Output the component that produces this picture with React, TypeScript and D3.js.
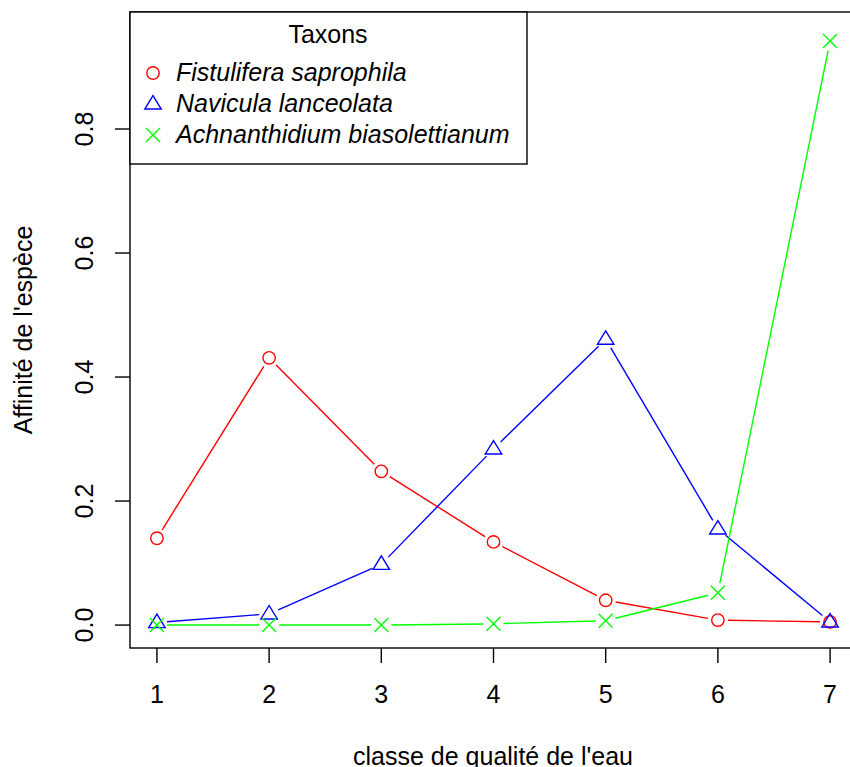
import React from "react";
import * as d3 from "d3";

const classes = [1, 2, 3, 4, 5, 6, 7];
const fistulifera = [0.140, 0.431, 0.248, 0.134, 0.040, 0.008, 0.005];
const navicula = [0.004, 0.018, 0.098, 0.284, 0.461, 0.155, 0.005];
const achnanthidium = [0.0, 0.0, 0.0, 0.002, 0.007, 0.052, 0.942];
const seriesNames = ["Fistulifera saprophila", "Navicula lanceolata", "Achnanthidium biasolettianum"];
const seriesColors = ["#FF0000", "#0000FF", "#00FF00"];
const seriesShapes = ["circle", "triangle", "cross"];
const yTicks = [0.0, 0.2, 0.4, 0.6, 0.8];
const legendTitle = "Taxons";
const xLabel = "classe de qualité de l'eau";
const yLabel = "Affinité de l'espèce";

const W = 850, H = 767;
const left = 130, right = 857, top = 12, bottom = 648;
const FONT = "Liberation Sans, Arial, sans-serif";
const FS = 25;

function Marker({ shape, x, y, color }: { shape: string; x: number; y: number; color: string }) {
  if (shape === "circle") return <circle cx={x} cy={y} r={6.2} fill="none" stroke={color} strokeWidth={1.4} />;
  if (shape === "triangle") {
    const s = 8.4;
    const pts = [[x, y - s], [x - s * 0.98, y + s * 0.6], [x + s * 0.98, y + s * 0.6]];
    return <polygon points={pts.map(p => p.join(",")).join(" ")} fill="none" stroke={color} strokeWidth={1.4} />;
  }
  const s = 7;
  return (
    <g stroke={color} strokeWidth={1.4}>
      <line x1={x - s} y1={y - s} x2={x + s} y2={y + s} />
      <line x1={x - s} y1={y + s} x2={x + s} y2={y - s} />
    </g>
  );
}

export default function App() {
  const x = d3.scaleLinear().domain([0.76, 7.24]).range([left, right]);
  const y = d3.scaleLinear().domain([-0.037, 0.9887]).range([bottom, top]);
  const data = [fistulifera, navicula, achnanthidium];
  const gap = 10;

  return (
    <svg width={W} height={H} style={{ position: "absolute", left: 0, top: 0 }} fontFamily={FONT}>
      <rect width={W} height={H} fill="white" />
      {data.map((vals, si) => (
        <g key={si}>
          {vals.slice(0, -1).map((v, i) => {
            const x1 = x(classes[i]), y1 = y(v), x2 = x(classes[i + 1]), y2 = y(vals[i + 1]);
            const dx = x2 - x1, dy = y2 - y1, len = Math.hypot(dx, dy);
            if (len <= 2 * gap) return null;
            const ux = dx / len, uy = dy / len;
            return <line key={i} x1={x1 + ux * gap} y1={y1 + uy * gap} x2={x2 - ux * gap} y2={y2 - uy * gap}
              stroke={seriesColors[si]} strokeWidth={1.4} />;
          })}
          {vals.map((v, i) => (
            <Marker key={i} shape={seriesShapes[si]} x={x(classes[i])} y={y(v)} color={seriesColors[si]} />
          ))}
        </g>
      ))}
      <rect x={left} y={top} width={right - left} height={bottom - top} fill="none" stroke="black" strokeWidth={1.4} />
      {classes.map(c => (
        <g key={c}>
          <line x1={x(c)} x2={x(c)} y1={bottom} y2={bottom + 15} stroke="black" strokeWidth={1.4} />
          <text x={x(c)} y={703} textAnchor="middle" fontSize={FS}>{c}</text>
        </g>
      ))}
      {yTicks.map(t => (
        <g key={t}>
          <line x1={left - 15} x2={left} y1={y(t)} y2={y(t)} stroke="black" strokeWidth={1.4} />
          <text transform={`translate(${93},${y(t)}) rotate(-90)`} textAnchor="middle" fontSize={FS}>{t.toFixed(1)}</text>
        </g>
      ))}
      <text x={493} y={765} textAnchor="middle" fontSize={FS}>{xLabel}</text>
      <text transform={`translate(${32},${330}) rotate(-90)`} textAnchor="middle" fontSize={FS}>{yLabel}</text>
      <g>
        <rect x={left} y={top} width={397} height={152} fill="white" stroke="black" strokeWidth={1.4} />
        <text x={328} y={43} textAnchor="middle" fontSize={FS}>{legendTitle}</text>
        {seriesNames.map((n, i) => (
          <g key={n}>
            <Marker shape={seriesShapes[i]} x={153} y={73 + i * 31} color={seriesColors[i]} />
            <text x={176} y={80.5 + i * 31.3} fontSize={FS} fontStyle="italic">{n}</text>
          </g>
        ))}
      </g>
    </svg>
  );
}
